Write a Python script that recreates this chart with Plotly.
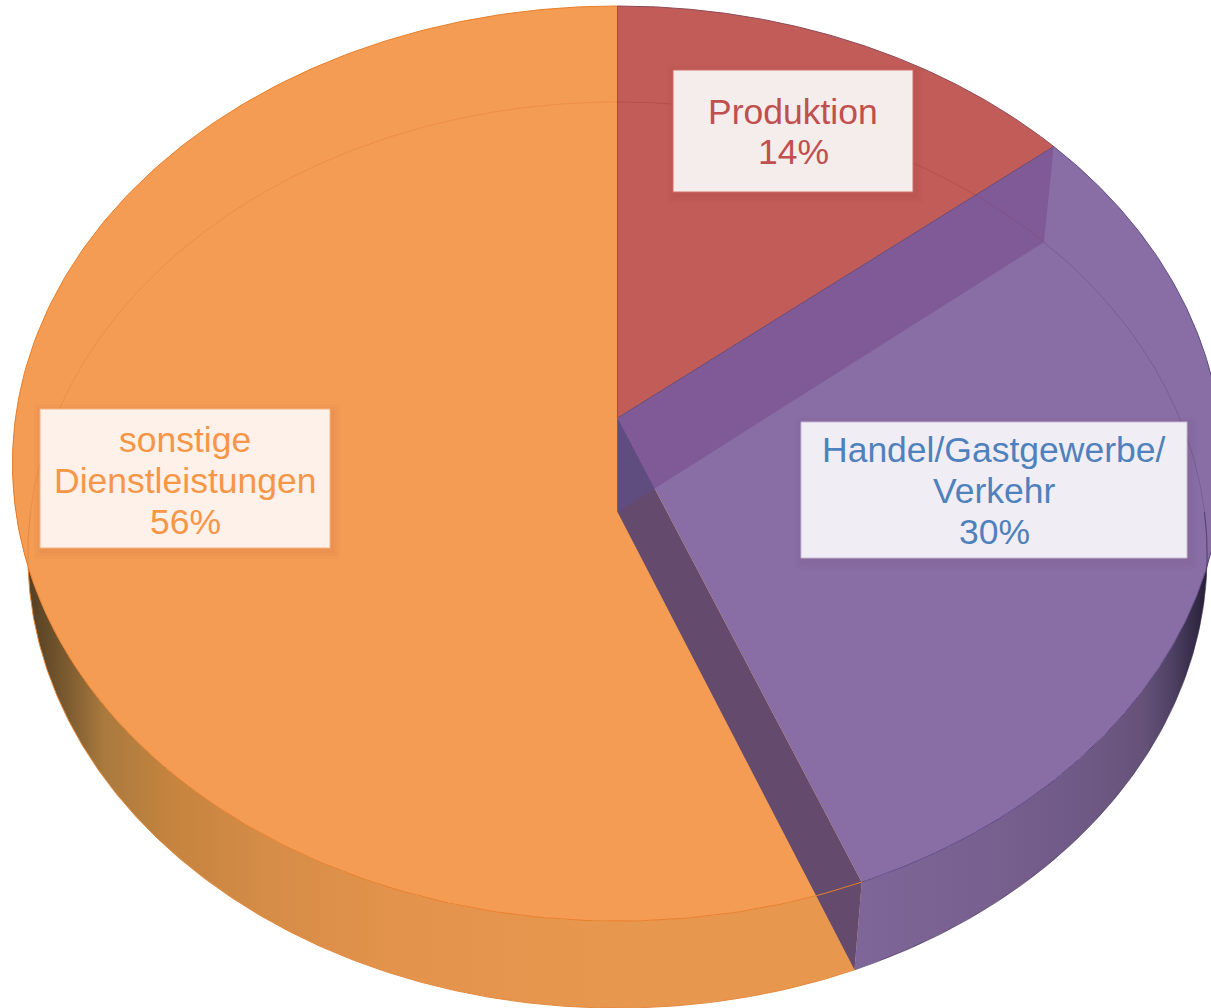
import numpy as np
import plotly.graph_objects as go

# ---------- data ----------
categories = ["Produktion", "Handel/Gastgewerbe/Verkehr", "sonstige Dienstleistungen"]
values = [14, 30, 56]
label_lines = [["Produktion", "14%"],
               ["Handel/Gastgewerbe/", "Verkehr", "30%"],
               ["sonstige", "Dienstleistungen", "56%"]]

# ---------- styles ----------
top_colors = ["#C25C58", "#886EA5", "#F49B54"]
edge_colors = ["#8E4A55", "#5E4A86", "#E87F2A"]
faint_colors = ["rgba(150,50,50,0.3)", "rgba(80,55,110,0.3)", "rgba(225,120,40,0.35)"]
text_colors = ["#C0504D", "#4F81BD", "#F79646"]
box_fill = ["#F5ECEC", "#F0EEF4", "#FDF1E9"]
box_line = ["#CE6E6A", "#C5B8D4", "#F9B27E"]
boxes = [(673, 70, 913, 192), (801, 422, 1187, 558), (40, 409, 330, 548)]
line_pos = [(793, [112, 152]), (994, [450, 491, 532]), (185, [440, 481, 522])]

# ---------- perspective geometry of the disc ----------
TOP = dict(cx=617.5, cy=418, bx=602, ay=453, c=0.0995)
BOT = dict(cx=617.5, cy=512, bx=587, ay=449, c=0.0949)


def rim(theta_deg, face):
    t = np.radians(theta_deg)
    u, v = np.sin(t), np.cos(t)
    d = 1 + face["c"] * v
    return face["cx"] + face["bx"] * u / d, face["cy"] - face["ay"] * v / d


def arc(a, b, face, n=240):
    return rim(np.linspace(a, b, n), face)


cum = np.cumsum([0] + values) * 3.6
traces = []


def poly(x, y, color=None, line=None, width=0, **kw):
    traces.append(go.Scatter(
        x=list(x), y=list(y), mode="lines", fill="toself",
        fillcolor=color, line=dict(color=line or "rgba(0,0,0,0)", width=width),
        hoverinfo="skip", showlegend=False, **kw))


def stroke(x, y, color, width=1):
    traces.append(go.Scatter(x=list(x), y=list(y), mode="lines",
                             line=dict(color=color, width=width),
                             hoverinfo="skip", showlegend=False))


# outer side walls with their shading
ax, ay = arc(cum[2], 270, TOP)
bx, by = arc(cum[2], 270, BOT)
poly(np.r_[ax, bx[::-1]], np.r_[ay, by[::-1]],
     fillgradient=dict(type="horizontal", start=20, stop=860, colorscale=[
         [0, "#4F3A22"], [0.03, "#634A28"], [0.07, "#8A6434"], [0.1, "#A97A3E"],
         [0.18, "#C5843F"], [0.3, "#D68D47"], [0.45, "#E3934C"], [0.7, "#E8974E"], [1, "#E8974F"]]))
ax, ay = arc(90, cum[2], TOP)
bx, by = arc(90, cum[2], BOT)
poly(np.r_[ax, bx[::-1]], np.r_[ay, by[::-1]],
     fillgradient=dict(type="horizontal", start=855, stop=1215, colorscale=[
         [0, "#7F6699"], [0.4, "#775F8E"], [0.65, "#6E5985"], [0.8, "#665278"],
         [0.88, "#4E4164"], [0.96, "#2E2640"], [1, "#1C1628"]]))

# top faces
for i in range(3):
    x, y = arc(cum[i], cum[i + 1], TOP)
    poly(np.r_[TOP["cx"], x, TOP["cx"]], np.r_[TOP["cy"], y, TOP["cy"]], top_colors[i])

# far rim of the base, seen through the top
for i, (a, b) in enumerate([(cum[0], cum[1]), (cum[1], 97), (270, 360)]):
    x, y = arc(a, b, BOT)
    stroke(x, y, faint_colors[i], 1)


# inner walls along the two slice boundaries that meet the visible wedge
def wall(theta):
    rx, ry = rim(theta, TOP)
    qx, qy = rim(theta, BOT)
    return [TOP["cx"], rx, qx, BOT["cx"], TOP["cx"]], [TOP["cy"], ry, qy, BOT["cy"], TOP["cy"]]


wx, wy = wall(cum[2])
poly(wx, wy, "#644B6E")
wx, wy = wall(cum[1])
poly(wx, wy, "rgba(122,76,142,0.62)")

# where the two walls overlap at the hub
r2x, r2y = rim(cum[2], TOP)
q1x, q1y = rim(cum[1], BOT)
d1 = np.array([r2x - TOP["cx"], r2y - TOP["cy"]])
d2 = np.array([q1x - BOT["cx"], q1y - BOT["cy"]])
s = np.linalg.solve(np.array([d1, -d2]).T, np.array([BOT["cx"] - TOP["cx"], BOT["cy"] - TOP["cy"]]))[0]
hx, hy = TOP["cx"] + s * d1[0], TOP["cy"] + s * d1[1]
poly([TOP["cx"], hx, BOT["cx"], TOP["cx"]], [TOP["cy"], hy, BOT["cy"], TOP["cy"]], "#5F4D80")

# rim outlines
for i in range(3):
    x, y = arc(cum[i], cum[i + 1], TOP)
    stroke(x, y, edge_colors[i], 1)
x, y = rim(cum[1], TOP)
stroke([TOP["cx"], x], [TOP["cy"], y], "#6A4A72", 1)
stroke([TOP["cx"], TOP["cx"]], [TOP["cy"] - 412, TOP["cy"]], "#A9483E", 1)
x, y = arc(cum[2], 270, BOT)
stroke(x, y, "#E58A3E", 1)
x, y = arc(90, cum[2], BOT)
stroke(x, y, "rgba(60,45,85,0.6)", 1)

fig = go.Figure(traces)

# label boxes with a soft shadow, then the text
shapes, annotations = [], []
for (x0, y0, x1, y1), fill, ln in zip(boxes, box_fill, box_line):
    for g in (8, 5, 2):
        shapes.append(dict(type="rect", xref="x", yref="y", layer="above",
                           x0=x0 + 2 - g, x1=x1 + 2 + g, y0=y0 + 3 - g, y1=y1 + 3 + g,
                           fillcolor="rgba(110,40,50,0.025)", line=dict(width=0)))
    shapes.append(dict(type="rect", xref="x", yref="y", layer="above",
                       x0=x0, x1=x1, y0=y0, y1=y1, fillcolor=fill,
                       line=dict(color=ln, width=1)))
for lines, (cx, ys), col in zip(label_lines, line_pos, text_colors):
    for t, yy in zip(lines, ys):
        annotations.append(dict(x=cx, y=yy, xref="x", yref="y", text=t, showarrow=False,
                                xanchor="center", yanchor="middle",
                                font=dict(family="Liberation Sans, Arial, sans-serif",
                                          size=35.5, color=col)))

fig.update_layout(
    width=1211, height=1008, margin=dict(l=0, r=0, t=0, b=0),
    paper_bgcolor="white", plot_bgcolor="white", showlegend=False,
    xaxis=dict(range=[0, 1211], visible=False, fixedrange=True),
    yaxis=dict(range=[1008, 0], visible=False, fixedrange=True),
    shapes=shapes, annotations=annotations)
fig.write_html("out.html", config=dict(displayModeBar=False),
               post_script="document.body.style.margin='0';document.documentElement.style.overflow='hidden';")
